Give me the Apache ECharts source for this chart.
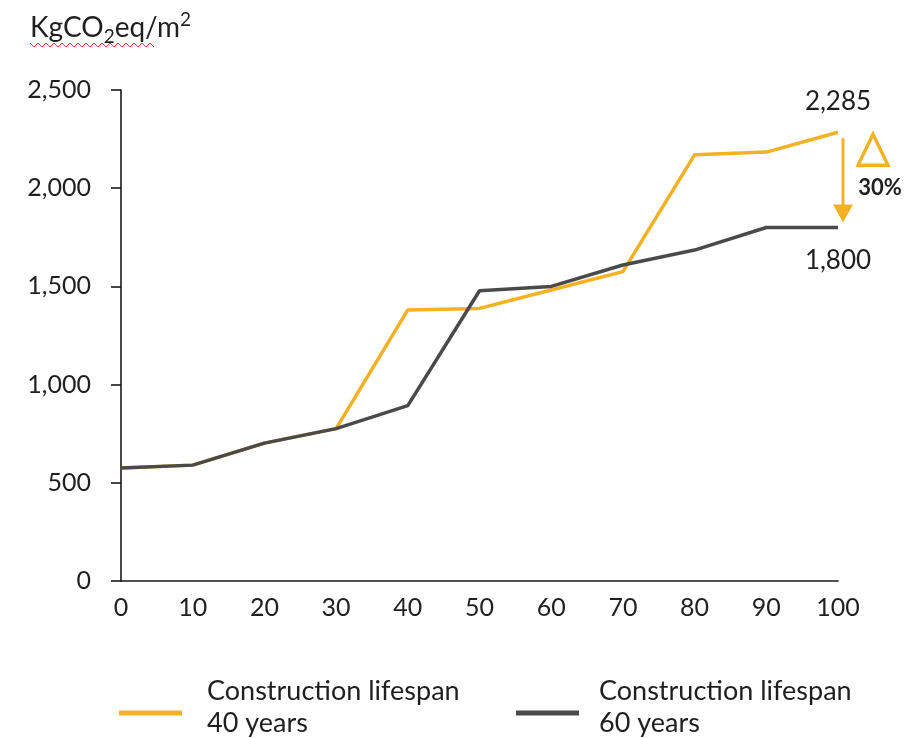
<!DOCTYPE html>
<html>
<head>
<meta charset="utf-8">
<script src="https://cdn.jsdelivr.net/npm/echarts@6/dist/echarts.min.js"></script>
<style>html,body{margin:0;padding:0;background:#fff}#c{width:910px;height:738px}</style>
</head>
<body>
<div id="c"></div>
<script>
var years = [0, 10, 20, 30, 40, 50, 60, 70, 80, 90, 100];
var lifespan40 = [575, 590, 702, 776, 1380, 1388, 1482, 1575, 2170, 2184, 2285];
var lifespan60 = [575, 590, 702, 776, 893, 1478, 1500, 1609, 1685, 1800, 1800];
var seriesNames = ['Construction lifespan\n40 years', 'Construction lifespan\n60 years'];
var yTicks = [0, 500, 1000, 1500, 2000, 2500];
var deltaLabel = '30%';

var ORANGE = '#F4B124';
var GRAY = '#4A4A4A';
var TXT = '#1f1f1f';
var FONT = 'Lato, "Open Sans", sans-serif';
var LEGEND_ICON = 'path://M0,0 M0,12 L63,12 L63,17 L0,17 Z';

function pairs(arr){ return years.map(function(x,i){ return [x, arr[i]]; }); }
function fmt(v){ return v.toLocaleString('en-US'); }

var chart = echarts.init(document.getElementById('c'));
var lastIdx = years.length - 1;

chart.setOption({
  animation: false,
  grid: { left: 121, right: 72, top: 90, bottom: 157 },
  xAxis: {
    type: 'value', min: 0, max: 100, interval: 10,
    axisLine: { lineStyle: { color: '#1a1a1a', width: 1.6 } },
    axisTick: { show: false },
    splitLine: { show: false },
    axisLabel: { color: TXT, fontFamily: FONT, fontSize: 25, margin: 14 }
  },
  yAxis: {
    type: 'value', min: yTicks[0], max: yTicks[yTicks.length-1], interval: 500,
    axisLine: { show: true, lineStyle: { color: '#1a1a1a', width: 1.6 } },
    axisTick: { show: true, length: 10, lineStyle: { color: '#1a1a1a', width: 1.6 } },
    splitLine: { show: false },
    axisLabel: { color: TXT, fontFamily: FONT, fontSize: 25, margin: 30, formatter: function(v){ return fmt(v); } }
  },
  legend: [
    { data: [seriesNames[0]], left: 114, top: 670, icon: LEGEND_ICON, itemWidth: 63, itemHeight: 17,
      textStyle: { color: TXT, fontFamily: FONT, fontSize: 27, lineHeight: 32, padding: [0,0,0,20] } },
    { data: [seriesNames[1]], left: 511, top: 670, icon: LEGEND_ICON, itemWidth: 63, itemHeight: 17,
      textStyle: { color: TXT, fontFamily: FONT, fontSize: 27, lineHeight: 32, padding: [0,0,0,15] } }
  ],
  series: [
    { name: seriesNames[0], type: 'line', data: pairs(lifespan40), symbol: 'circle', symbolSize: 0.1, showSymbol: true,
      lineStyle: { color: ORANGE, width: 3.5 }, itemStyle: { color: ORANGE }, z: 2,
      label: { show: true, position: 'top', distance: 18, color: TXT, fontFamily: FONT, fontSize: 26,
        formatter: function(p){ return p.dataIndex === lastIdx ? fmt(p.value[1]) : ''; } } },
    { name: seriesNames[1], type: 'line', data: pairs(lifespan60), symbol: 'circle', symbolSize: 0.1, showSymbol: true,
      lineStyle: { color: GRAY, width: 3.5 }, itemStyle: { color: GRAY }, z: 3,
      label: { show: true, position: 'bottom', distance: 20, color: TXT, fontFamily: FONT, fontSize: 26,
        formatter: function(p){ return p.dataIndex === lastIdx ? fmt(p.value[1]) : ''; } } }
  ]
});

// annotations placed through the chart's own scales
var pTop = chart.convertToPixel({gridIndex: 0}, [100, lifespan40[lastIdx]]);
var pBot = chart.convertToPixel({gridIndex: 0}, [100, lifespan60[lastIdx]]);
var ax = pTop[0] + 5;
var y1 = pTop[1] + 6, y2 = pBot[1] - 5;
var tx = ax + 30, ty = pTop[1];

chart.setOption({
  graphic: [
    { type: 'text', left: 30, top: 10, style: {
        text: '{a|KgCO}{s|2}{a|eq/m}{p|2}',
        rich: {
          a: { fontFamily: FONT, fontSize: 28, lineHeight: 36, fill: TXT, color: TXT },
          s: { fontFamily: FONT, fontSize: 19, lineHeight: 19, verticalAlign: 'bottom', fill: TXT, color: TXT },
          p: { fontFamily: FONT, fontSize: 19, lineHeight: 19, verticalAlign: 'top', fill: TXT, color: TXT }
        } } },
    { type: 'polyline', shape: { points: (function(){ var a=[]; for (var x=30;x<=157;x+=4){ a.push([x, (Math.floor((x-30)/4)%2===0)?43:47]); } return a; })() },
      style: { stroke: '#e33', lineWidth: 1, fill: null } },
    { type: 'line', shape: { x1: ax, y1: y1, x2: ax, y2: y2 - 14 }, style: { stroke: ORANGE, lineWidth: 3 } },
    { type: 'polygon', shape: { points: [[ax-10, y2-18], [ax+10, y2-18], [ax, y2]] }, style: { fill: ORANGE } },
    { type: 'polygon', shape: { points: [[tx, ty+2], [tx-15, ty+33], [tx+15, ty+33]] },
      style: { fill: null, stroke: ORANGE, lineWidth: 3.4, lineJoin: 'miter' } },
    { type: 'text', x: tx + 7, y: ty + 56, style: { text: deltaLabel, fill: TXT, font: 'bold 22px ' + FONT, align: 'center', verticalAlign: 'middle' } }
  ]
});
</script>
</body>
</html>
